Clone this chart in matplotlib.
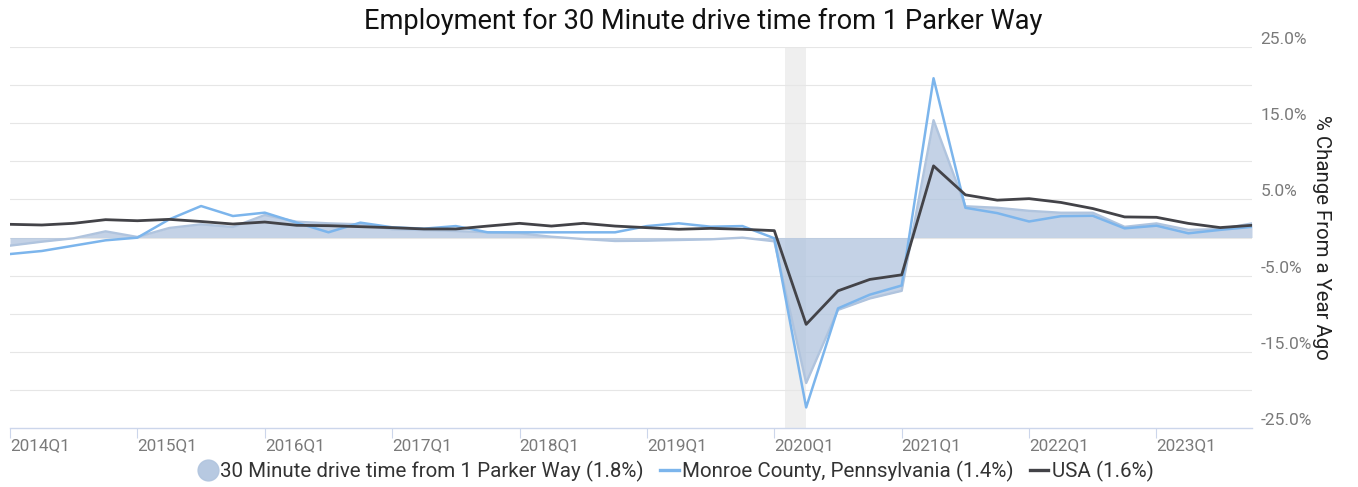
import numpy as np
import matplotlib as mpl
import matplotlib.pyplot as plt
from matplotlib.lines import Line2D

# quarterly year-over-year % change, 2014Q1 .. 2023Q4
quarters = [f"{y}Q{q}" for y in range(2014, 2024) for q in range(1, 5)]

drive_time = [-1.07, -0.55, -0.10, 0.81, 0.07, 1.25, 1.73, 1.38, 2.95, 2.07,
              1.86, 1.73, 1.08, 0.98, 0.85, 0.68, 0.55, 0.10, -0.20, -0.46,
              -0.42, -0.33, -0.24, -0.02, -0.50, -19.1, -9.5, -8.0, -7.0, 15.4,
              4.1, 3.9, 3.5, 3.25, 3.25, 1.4, 1.85, 1.0, 1.1, 1.85]
monroe = [-2.17, -1.77, -1.07, -0.37, -0.02, 2.38, 4.13, 2.82, 3.26, 1.95,
          0.68, 1.95, 1.34, 1.16, 1.5, 0.68, 0.68, 0.68, 0.68, 0.68,
          1.5, 1.86, 1.42, 1.5, -0.1, -22.3, -9.3, -7.5, -6.3, 20.9,
          3.9, 3.2, 2.1, 2.8, 2.85, 1.2, 1.55, 0.55, 1.0, 1.4]
usa = [1.73, 1.64, 1.86, 2.34, 2.2, 2.38, 2.1, 1.77, 2.03, 1.6,
       1.55, 1.42, 1.29, 1.12, 1.12, 1.5, 1.86, 1.5, 1.86, 1.5,
       1.29, 1.08, 1.2, 1.08, 0.9, -11.4, -7.0, -5.5, -4.9, 9.4,
       5.6, 4.9, 5.1, 4.6, 3.8, 2.7, 2.65, 1.85, 1.3, 1.6]

recession = (24.33, 25.0)
y_ticks = [25, 15, 5, -5, -15, -25]

labels = ["30 Minute drive time from 1 Parker Way (1.8%)",
          "Monroe County, Pennsylvania (1.4%)",
          "USA (1.6%)"]

AREA_C, MONROE_C, USA_C = "#b0c4de", "#7cb5ec", "#434348"

mpl.rcParams["font.family"] = ["Roboto", "DejaVu Sans"]

fig = plt.figure(figsize=(13.58, 4.87), dpi=100)
ax = fig.add_axes([10 / 1358, 1 - 428 / 487, 1242 / 1358, 381 / 487])

x = np.arange(len(quarters))
ax.axvspan(*recession, color="#efefef", lw=0, zorder=0)
for g in range(-20, 30, 5):
    ax.axhline(g, color="#e6e6e6", lw=0.8, zorder=0.5)

ax.fill_between(x, drive_time, 0, color=AREA_C, alpha=0.75, lw=0, zorder=1)
ax.plot(x, drive_time, color=AREA_C, lw=1.7, zorder=1.5)
ax.plot(x, monroe, color=MONROE_C, lw=1.8, zorder=2)
ax.plot(x, usa, color=USA_C, lw=2.0, zorder=3)

ax.set_xlim(0, len(quarters) - 1)
ax.set_ylim(-25, 25)

for s in ("top", "right", "left"):
    ax.spines[s].set_visible(False)
ax.spines["bottom"].set_color("#ccd6eb")
ax.spines["bottom"].set_linewidth(1.0)

ax.set_xticks(x[::4])
ax.set_xticklabels(quarters[::4], ha="left", color="#7a7a7a", fontsize=12.3)
ax.tick_params(axis="x", length=7, color="#ccd6eb", pad=0)

ax.yaxis.tick_right()
ax.set_yticks(y_ticks)
ax.set_yticklabels([f"{v:.1f}%" for v in y_ticks], color="#7a7a7a", fontsize=12.5, va="bottom")
ax.tick_params(axis="y", length=0, pad=6)
ax.yaxis.set_label_position("right")
ax.set_ylabel("% Change From a Year Ago", rotation=-90, fontsize=14.7,
              color="#222222", labelpad=0, va="bottom")

fig.suptitle("Employment for 30 Minute drive time from 1 Parker Way",
             x=703 / 1358, y=1 - 21 / 487, va="center", fontsize=19.6, color="#111111")

handles = [Line2D([], [], ls="none", marker="o", ms=15, color=AREA_C, alpha=0.9),
           Line2D([], [], color=MONROE_C, lw=2.4),
           Line2D([], [], color=USA_C, lw=2.4)]
fig.legend(handles, labels, loc="center", bbox_to_anchor=(676 / 1358, 1 - 471 / 487),
           ncol=3, frameon=False, fontsize=14.8, handlelength=0.9, handletextpad=0.15,
           columnspacing=0.8, labelcolor="#333333")

fig.savefig("out.png", dpi=100)
